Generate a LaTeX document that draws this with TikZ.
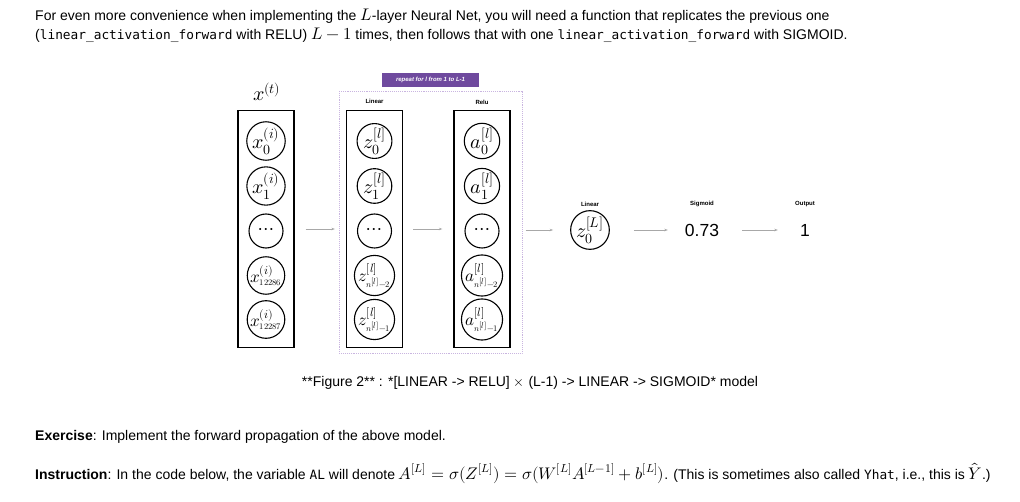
\documentclass[tikz,border=0pt]{standalone}
\usepackage{unicode-math}
\setmainfont{Liberation Sans}
\setmonofont{DejaVu Sans Mono}
\setmathfont{Latin Modern Math}
\usetikzlibrary{arrows.meta}
\definecolor{repeatpurple}{HTML}{6F4A9E}
\definecolor{dotpurple}{HTML}{C9B5E0}
\definecolor{flowgray}{HTML}{A8A8A8}
\newcommand{\codefont}{\fontsize{12.8}{15}\selectfont\ttfamily}
\newcommand{\mjx}[1]{{\fontsize{16.8}{17}\selectfont$#1$}}
\tikzset{
  colbox/.style={draw, line width=1.3pt, minimum width=56pt, minimum height=237pt, inner sep=0pt},
  neuron/.style={circle, draw, line width=1.1pt, minimum size=34pt, inner sep=0pt, font=\fontsize{20}{20}\selectfont},
  small neuron/.style={neuron, font=\fontsize{17}{17}\selectfont},
  flow/.style={-{Stealth[length=3.5pt,width=2.5pt]}, draw=flowgray, line width=0.6pt},
  lbl/.style={font=\fontsize{6}{6}\selectfont\bfseries, inner sep=0pt},
  bigval/.style={font=\fontsize{17.5}{17.5}\selectfont, inner sep=0pt, minimum width=40pt},
  para/.style={anchor=west, inner sep=0pt, font=\fontsize{14}{17}\selectfont},
}
\begin{document}
\begin{tikzpicture}[x=1pt,y=-1pt]
\fill[white] (0,0) rectangle (1020,502);
\useasboundingbox (0,0) rectangle (1020,502);

% intro text
\node[para] (t1) at (35,16) {For even more convenience when implementing the \mjx{L}-layer Neural Net, you will need a function that replicates the previous one};
\node[para] (t2) at (35,35) {({\codefont linear\_activation\_forward} with RELU) \mjx{L-1} times, then follows that with one {\codefont linear\_activation\_forward} with SIGMOID.};

% repeat region
\draw[dotpurple, densely dotted, line width=0.9pt] (339,91) rectangle (522,353);
\node[fill=repeatpurple, text=white, font=\fontsize{6}{6}\selectfont\bfseries\itshape, minimum width=97pt, minimum height=14pt, inner sep=0pt] (rep) at (430.5,80) {repeat for l from 1 to L-1};
\node[lbl] (linlab) at (374.5,101) {Linear};
\node[lbl] (relulab) at (482,102) {Relu};

% input column
\node[font=\fontsize{20}{20}\selectfont] (xt) at (267,92) {$x^{(t)}$};
\node[colbox] (xbox) at (266,229) {};
\node[neuron] (x0) at (266,141) {$x_0^{(i)}$};
\node[neuron] (x1) at (266,186) {$x_1^{(i)}$};
\node[neuron] (xd) at (266,231) {$\cdots$};
\node[small neuron] (x2) at (266,275.5) {$x_{\scriptscriptstyle 12286}^{(i)}$};
\node[small neuron] (x3) at (266,319.5) {$x_{\scriptscriptstyle 12287}^{(i)}$};

% linear column
\node[colbox] (zbox) at (374.5,229) {};
\node[neuron] (z0) at (374.5,141) {$z_0^{[l]}$};
\node[neuron] (z1) at (374.5,186) {$z_1^{[l]}$};
\node[neuron] (zd) at (374.5,231) {$\cdots$};
\node[small neuron] (z2) at (374.5,275.5) {$z_{\scriptscriptstyle n^{[l]}-2}^{[l]}$};
\node[small neuron] (z3) at (374.5,319.5) {$z_{\scriptscriptstyle n^{[l]}-1}^{[l]}$};

% relu column
\node[colbox] (abox) at (482,229) {};
\node[neuron] (a0) at (482,141) {$a_0^{[l]}$};
\node[neuron] (a1) at (482,186) {$a_1^{[l]}$};
\node[neuron] (ad) at (482,231) {$\cdots$};
\node[small neuron] (a2) at (482,275.5) {$a_{\scriptscriptstyle n^{[l]}-2}^{[l]}$};
\node[small neuron] (a3) at (482,319.5) {$a_{\scriptscriptstyle n^{[l]}-1}^{[l]}$};

% final layers
\node[neuron] (zL) at (590,230) {$z_0^{[L]}$};
\node[bigval] (sig) at (702,230) {0.73};
\node[bigval] (out) at (805,230) {1};
\node[lbl] (linlab2) at (590,204) {Linear};
\node[lbl] (siglab) at (702,204) {Sigmoid};
\node[lbl] (outlab) at (805,204) {Output};

% arrows
\draw[flow, shorten <=11pt, shorten >=11pt] (xbox) -- (zbox);
\draw[flow, shorten <=10pt, shorten >=11pt] (zbox) -- (abox);
\draw[flow, shorten <=15pt, shorten >=17pt] (abox.east |- zL) -- (zL);
\draw[flow, shorten <=24pt, shorten >=14pt] (zL) -- (sig);
\draw[flow, shorten <=20pt, shorten >=7pt] (sig) -- (out);

% caption and exercise
\node[inner sep=0pt, font=\fontsize{14}{17}\selectfont] (cap) at (530,383) {**Figure 2** : *[LINEAR -> RELU] $\times$ (L-1) -> LINEAR -> SIGMOID* model};
\node[para] (ex) at (35,437) {\textbf{Exercise}: Implement the forward propagation of the above model.};
\node[para] (ins) at (35,473) {\textbf{Instruction}: In the code below, the variable {\codefont AL} will denote \mjx{A^{[L]} = \sigma(Z^{[L]}) = \sigma(W^{[L]} A^{[L-1]} + b^{[L]})}. (This is sometimes also called {\codefont Yhat}, i.e., this is \mjx{\hat{Y}}.)};
\end{tikzpicture}
\end{document}
